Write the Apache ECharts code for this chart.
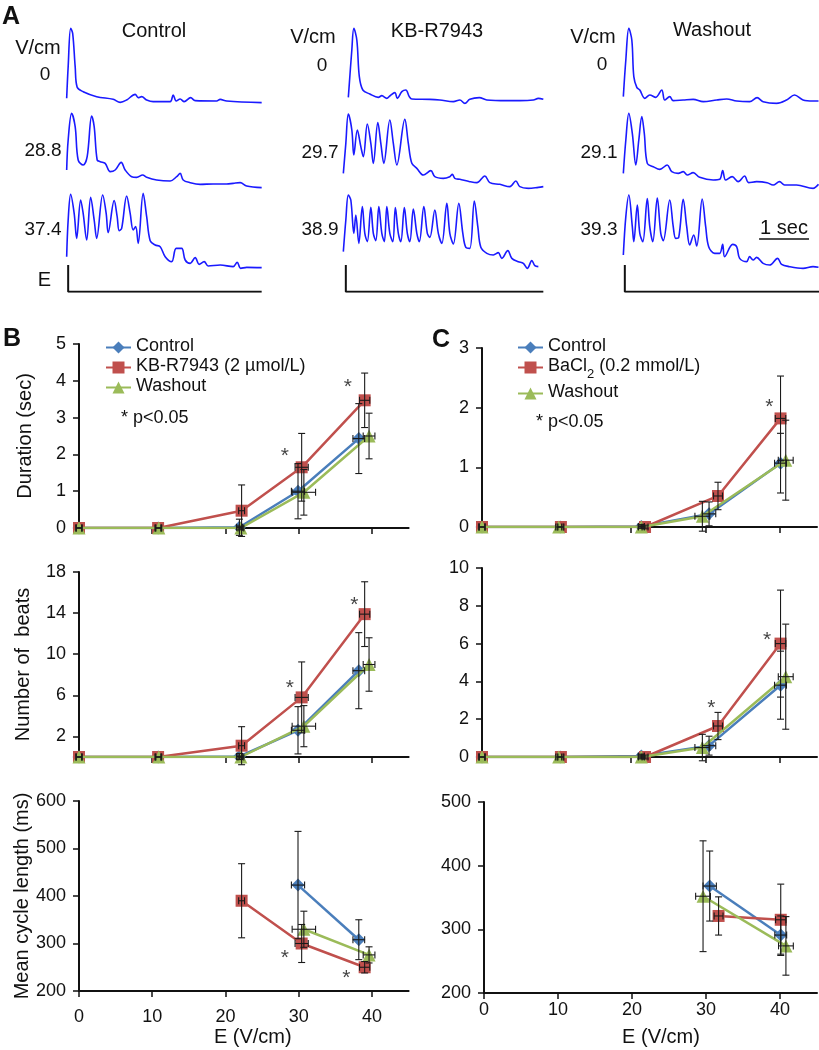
<!DOCTYPE html>
<html><head><meta charset="utf-8">
<script src="https://cdn.jsdelivr.net/npm/echarts@6/dist/echarts.min.js"></script>
<style>html,body{margin:0;padding:0;background:#fff}#c{width:819px;height:1050px}</style>
</head><body><div id="c"></div><script>
// ---------- Panel A traces: [time (s), amplitude (a.u.)] ----------
const trCtrl1 = [[0,15],[0.03,110],[0.08,225],[0.12,210],[0.17,110],[0.21,48],[0.33,35],[0.6,20],[0.93,12],[1.07,3],[1.2,10],[1.37,27],[1.43,17],[1.5,20],[1.6,10],[1.73,5],[2.07,5],[2.13,25],[2.19,7],[2.27,13],[2.35,5],[2.48,17],[2.57,8],[3.0,7],[3.07,12],[3.2,7],[3.9,2]];
const trCtrl2 = [[0,55],[0.03,145],[0.1,225],[0.17,185],[0.23,85],[0.33,70],[0.41,95],[0.5,217],[0.55,185],[0.61,85],[0.67,80],[0.77,75],[0.87,50],[0.97,55],[1.09,78],[1.17,55],[1.3,35],[1.4,33],[1.52,40],[1.6,33],[1.8,25],[2.07,22],[2.2,35],[2.27,45],[2.33,25],[2.47,17],[2.67,12],[2.93,13],[3.2,13],[3.33,15],[3.47,17],[3.6,7],[3.9,2]];
const trCtrl3 = [[0,38],[0.03,148],[0.08,225],[0.15,168],[0.2,93],[0.28,208],[0.33,168],[0.4,88],[0.48,216],[0.55,148],[0.6,93],[0.72,223],[0.79,168],[0.83,110],[0.95,206],[1.01,158],[1.05,116],[1.1,123],[1.2,220],[1.27,168],[1.33,118],[1.38,128],[1.43,78],[1.53,228],[1.6,158],[1.67,86],[1.77,73],[1.87,68],[1.97,38],[2.1,23],[2.19,63],[2.3,63],[2.37,28],[2.47,18],[2.57,35],[2.65,15],[2.75,23],[2.83,10],[3.07,13],[3.33,8],[3.41,21],[3.48,3],[3.6,6],[3.9,5]];
const trKb1 = [[0.1,20],[0.17,162],[0.21,227],[0.27,192],[0.32,82],[0.39,42],[0.53,30],[0.7,20],[0.77,25],[0.87,17],[0.93,24],[1.03,34],[1.08,17],[1.17,37],[1.25,42],[1.32,22],[1.37,15],[1.73,14],[1.93,12],[2.2,7],[2.33,12],[2.43,2],[2.53,14],[2.72,19],[2.87,12],[3.27,10],[3.53,10],[3.8,12],[3.9,17],[4.0,14]];
const trKb2 = [[0,47],[0.05,137],[0.1,225],[0.17,177],[0.21,102],[0.28,177],[0.35,127],[0.4,97],[0.48,195],[0.55,137],[0.6,77],[0.69,199],[0.75,137],[0.81,77],[0.93,207],[1.0,137],[1.07,72],[1.23,209],[1.3,137],[1.37,77],[1.47,62],[1.6,42],[1.75,55],[1.83,37],[2.0,32],[2.13,37],[2.18,44],[2.23,32],[2.33,29],[2.53,22],[2.67,19],[2.83,39],[2.93,19],[3.13,14],[3.33,7],[3.45,24],[3.53,7],[3.7,2],[3.9,5],[4.0,7]];
const trKb3 = [[0,53],[0.05,148],[0.1,223],[0.15,208],[0.21,108],[0.25,163],[0.31,78],[0.38,188],[0.43,108],[0.48,83],[0.55,186],[0.6,108],[0.65,86],[0.71,188],[0.77,108],[0.82,83],[0.87,188],[0.93,108],[0.99,83],[1.04,185],[1.1,108],[1.15,83],[1.22,185],[1.28,108],[1.33,83],[1.4,181],[1.47,108],[1.52,83],[1.61,188],[1.68,108],[1.73,96],[1.83,178],[1.9,108],[1.97,78],[2.07,198],[2.13,108],[2.2,76],[2.31,198],[2.39,108],[2.45,66],[2.53,63],[2.62,205],[2.69,128],[2.75,66],[2.87,48],[3.0,43],[3.1,50],[3.17,33],[3.29,56],[3.37,33],[3.5,23],[3.6,18],[3.68,3],[3.77,26],[3.83,11],[3.9,8]];
const trWash1 = [[0,22],[0.05,132],[0.11,227],[0.17,192],[0.21,82],[0.27,50],[0.33,42],[0.43,17],[0.53,27],[0.65,20],[0.77,42],[0.83,12],[0.93,22],[1.0,10],[1.2,12],[1.4,14],[1.6,7],[1.87,12],[2.07,15],[2.27,9],[2.53,7],[2.68,19],[2.8,7],[3.07,2],[3.27,12],[3.43,27],[3.6,12],[3.8,9],[3.91,9]];
const trWash2 = [[0,47],[0.05,147],[0.11,227],[0.18,167],[0.25,72],[0.31,147],[0.37,217],[0.42,167],[0.48,77],[0.6,67],[0.73,59],[0.88,72],[0.97,52],[1.1,47],[1.2,52],[1.28,42],[1.4,49],[1.53,35],[1.8,27],[1.93,29],[1.99,55],[2.05,27],[2.18,37],[2.3,22],[2.43,39],[2.51,19],[2.67,22],[2.88,19],[3.0,12],[3.13,22],[3.23,12],[3.47,12],[3.8,2],[3.91,14]];
const trWash3 = [[0,43],[0.05,158],[0.11,223],[0.18,128],[0.21,83],[0.28,193],[0.33,108],[0.39,83],[0.48,212],[0.53,128],[0.59,83],[0.68,214],[0.75,108],[0.8,86],[0.93,208],[1.0,128],[1.05,93],[1.11,96],[1.2,210],[1.27,128],[1.33,73],[1.41,103],[1.47,70],[1.58,211],[1.65,128],[1.71,68],[1.83,48],[1.93,48],[1.99,75],[2.03,38],[2.19,75],[2.27,68],[2.33,33],[2.47,23],[2.53,38],[2.6,28],[2.67,36],[2.8,18],[2.93,13],[3.09,33],[3.17,15],[3.33,8],[3.6,3],[3.8,8],[3.91,6]];
// stimulus (E) markers and scale bar
const stimCtrl = [[0.03,1],[0.03,0],[3.9,0]];
const stimKb = [[0.05,1],[0.05,0],[4.0,0]];
const stimWash = [[0.03,1],[0.03,0],[3.92,0]];
const scaleBar = [[2.72,91],[3.72,91]];
const fieldCtrl = ['0','28.8','37.4'];
const fieldKb = ['0','29.7','38.9'];
const fieldWash = ['0','29.1','39.3'];

// ---------- Panel B (KB-R7943) ----------
const namesB = ['Control','KB-R7943 (2 µmol/L)','Washout'];
const E_B_ctrl = [0,10.8,21.9,29.9,38.2];
const E_B_ctrl_sd = [0.4,0.4,0.4,0.9,0.8];
const E_B_kb = [0,10.8,22.2,30.4,39.0];
const E_B_kb_sd = [0.4,0.4,0.4,0.9,0.7];
const E_B_wash = [0,10.9,22.1,30.7,39.6];
const E_B_wash_sd = [0.4,0.4,0.4,1.6,0.8];
const durB_ctrl = [0,0,0.02,1.0,2.43];
const durB_ctrl_sd = [0,0,0.22,0.75,0.95];
const durB_kb = [0,0,0.47,1.65,3.47];
const durB_kb_sd = [0,0,0.7,0.92,0.74];
const durB_wash = [0,0,0,0.97,2.5];
const durB_wash_sd = [0,0,0.05,0.62,0.62];
const beatsB_ctrl = [0,0,0.05,2.6,8.4];
const beatsB_ctrl_sd = [0,0,0.3,2.3,3.7];
const beatsB_kb = [0,0,1.1,5.8,13.9];
const beatsB_kb_sd = [0,0,1.85,3.45,3.15];
const beatsB_wash = [0,0,0,3.0,9.0];
const beatsB_wash_sd = [0,0,0.1,2.0,2.6];
const cycB_ctrl = [null,null,null,423,308];
const cycB_ctrl_sd = [0,0,0,113,42];
const cycB_kb = [null,null,390,300,250];
const cycB_kb_sd = [0,0,78,40,12];
const cycB_wash = [null,null,null,330,276];
const cycB_wash_sd = [0,0,0,38,17];
const starsB_dur = [[28.1,1.95],[36.7,3.82]];
const starsB_beats = [[28.8,6.7],[37.6,14.8]];
const starsB_cyc = [[28.1,270],[36.5,227]];

// ---------- Panel C (BaCl2) ----------
const namesC = ['Control','BaCl2 (0.2 mmol/L)','Washout'];
const E_C_ctrl = [0,10.5,21.4,30.5,40.1];
const E_C_ctrl_sd = [0.4,0.4,0.4,0.9,0.8];
const E_C_ba = [0,10.6,21.9,31.7,40.1];
const E_C_ba_sd = [0.4,0.4,0.4,0.6,0.7];
const E_C_wash = [0,10.3,21.4,29.6,40.8];
const E_C_wash_sd = [0.4,0.4,0.4,1.0,1.0];
const durC_ctrl = [0,0,0.01,0.22,1.07];
const durC_ctrl_sd = [0,0,0.03,0.2,0.5];
const durC_ba = [0,0,0,0.52,1.82];
const durC_ba_sd = [0,0,0.03,0.23,0.71];
const durC_wash = [0,0,0,0.18,1.12];
const durC_wash_sd = [0,0,0.02,0.25,0.67];
const beatsC_ctrl = [0,0,0.05,0.6,3.8];
const beatsC_ctrl_sd = [0,0,0.1,0.5,1.8];
const beatsC_ba = [0,0,0,1.64,6.0];
const beatsC_ba_sd = [0,0,0.1,0.72,2.83];
const beatsC_wash = [0,0,0,0.5,4.25];
const beatsC_wash_sd = [0,0,0.1,0.7,2.78];
const cycC_ctrl = [null,null,null,368,291];
const cycC_ctrl_sd = [0,0,0,55,30];
const cycC_ba = [null,null,null,321,315];
const cycC_ba_sd = [0,0,0,30,56];
const cycC_wash = [null,null,null,352,274];
const cycC_wash_sd = [0,0,0,87,46];
const starsC_dur = [[38.6,2.0]];
const starsC_beats = [[30.8,2.6],[38.3,6.2]];
const starsC_cyc = [];

const xTicks = [0,10,20,30,40];
const beatsBTicks = [2,6,10,14,18];

// ---------- styling / layout ----------
const FONT = '"Liberation Sans", Arial, Helvetica, sans-serif';
const INK = '#111';
const TRACE = '#1a1aff';
const COLORS = ['#4a7ebb','#c0504d','#9bbb59'];
const SYMS = ['diamond','rect','triangle'];
const SYMSIZE = [13,12,13];

const grid = [], xAxis = [], yAxis = [], series = [], graphic = [];

function addText(text, x, y, size, opts) {
  opts = opts || {};
  graphic.push({type:'text', x:x, y:y, z:50, style:{text:text, fontSize:size, fontFamily:FONT,
    fontWeight: opts.bold ? 'bold' : 'normal', fill:INK, align: opts.align || 'center', verticalAlign:'middle'}});
}

// Panel A grids
const traceCols = [
  {left:66.67, width:195, max:3.9, bottoms:[103.33,188.33,269.33], data:[trCtrl1,trCtrl2,trCtrl3], stim:stimCtrl},
  {left:343.33, width:200, max:4.0, bottoms:[104,189,269.33], data:[trKb1,trKb2,trKb3], stim:stimKb},
  {left:623.33, width:196, max:3.92, bottoms:[104,189,269.33], data:[trWash1,trWash2,trWash3], stim:stimWash}
];
traceCols.forEach((col, ci) => {
  col.data.forEach((d, ri) => {
    const gi = grid.length;
    grid.push({left:col.left, top:col.bottoms[ri]-80, width:col.width, height:80});
    xAxis.push({gridIndex:gi, type:'value', min:0, max:col.max, show:false});
    yAxis.push({gridIndex:gi, type:'value', min:0, max:240, show:false});
    series.push({type:'line', name:'trace'+ci+ri, xAxisIndex:gi, yAxisIndex:gi, data:d, smooth:0.35,
      showSymbol:false, lineStyle:{color:TRACE, width:1.6}, silent:true});
    if (ci === 2 && ri === 2) {
      series.push({type:'line', name:'scalebar', xAxisIndex:gi, yAxisIndex:gi, data:scaleBar, showSymbol:false,
        lineStyle:{color:INK, width:1.5}, silent:true});
    }
  });
});
traceCols.forEach((col, ci) => {
  const gi = grid.length;
  grid.push({left:col.left, top:265, width:col.width, height:26.67});
  xAxis.push({gridIndex:gi, type:'value', min:0, max:col.max, show:false});
  yAxis.push({gridIndex:gi, type:'value', min:0, max:1, show:false});
  series.push({type:'line', name:'stim'+ci, xAxisIndex:gi, yAxisIndex:gi, data:col.stim, showSymbol:false,
    lineStyle:{color:INK, width:2}, silent:true});
});

// Panel A labels
addText('A', 2, 17, 25, {bold:true, align:'left'});
addText('Control', 154, 31, 20);
addText('KB-R7943', 437, 31, 20);
addText('Washout', 712, 30, 20);
addText('V/cm', 38, 48, 20);
addText('V/cm', 313, 37, 20);
addText('V/cm', 593, 37, 20);
const labelPos = [{x:[45,43,43], y:[75,151,230]}, {x:[322,320,320], y:[66,153,230]}, {x:[602,599,599], y:[65,153,230]}];
[fieldCtrl, fieldKb, fieldWash].forEach((arr, ci) => arr.forEach((t, ri) => addText(t, labelPos[ci].x[ri], labelPos[ci].y[ri], 19)));
addText('E', 44.5, 280, 20);
addText('1 sec', 784, 228, 20);

// Panels B & C
const chartsCfg = [
  {g:{left:79,top:344,width:329.6,height:184}, y:[0,5,1], yName:'Duration (sec)', nameGap:44, xLab:false,
   sets:[[E_B_ctrl,E_B_ctrl_sd,durB_ctrl,durB_ctrl_sd],[E_B_kb,E_B_kb_sd,durB_kb,durB_kb_sd],[E_B_wash,E_B_wash_sd,durB_wash,durB_wash_sd]], names:namesB, stars:starsB_dur},
  {g:{left:79,top:572,width:329.6,height:185}, y:[0,18,2], yLabels:beatsBTicks, yName:'Number of  beats', nameGap:46, xLab:false,
   sets:[[E_B_ctrl,E_B_ctrl_sd,beatsB_ctrl,beatsB_ctrl_sd],[E_B_kb,E_B_kb_sd,beatsB_kb,beatsB_kb_sd],[E_B_wash,E_B_wash_sd,beatsB_wash,beatsB_wash_sd]], names:namesB, stars:starsB_beats},
  {g:{left:79,top:801,width:329.6,height:190}, y:[200,600,100], yName:'Mean cycle length (ms)', nameGap:47, xLab:true, xMargin:17, xNameGap:36, xNamePad:18,
   sets:[[E_B_ctrl,E_B_ctrl_sd,cycB_ctrl,cycB_ctrl_sd],[E_B_kb,E_B_kb_sd,cycB_kb,cycB_kb_sd],[E_B_wash,E_B_wash_sd,cycB_wash,cycB_wash_sd]], names:namesB, stars:starsB_cyc},
  {g:{left:482,top:348,width:335,height:179}, y:[0,3,1], xLab:false,
   sets:[[E_C_ctrl,E_C_ctrl_sd,durC_ctrl,durC_ctrl_sd],[E_C_ba,E_C_ba_sd,durC_ba,durC_ba_sd],[E_C_wash,E_C_wash_sd,durC_wash,durC_wash_sd]], names:namesC, stars:starsC_dur},
  {g:{left:482,top:568,width:335,height:189}, y:[0,10,2], xLab:false,
   sets:[[E_C_ctrl,E_C_ctrl_sd,beatsC_ctrl,beatsC_ctrl_sd],[E_C_ba,E_C_ba_sd,beatsC_ba,beatsC_ba_sd],[E_C_wash,E_C_wash_sd,beatsC_wash,beatsC_wash_sd]], names:namesC, stars:starsC_beats},
  {g:{left:484,top:802,width:333,height:191}, y:[200,500,100], xLab:true, xMargin:8, xNameGap:34, xNamePad:21,
   sets:[[E_C_ctrl,E_C_ctrl_sd,cycC_ctrl,cycC_ctrl_sd],[E_C_ba,E_C_ba_sd,cycC_ba,cycC_ba_sd],[E_C_wash,E_C_wash_sd,cycC_wash,cycC_wash_sd]], names:namesC, stars:starsC_cyc}
];

function errRender(params, api) {
  const x = api.value(0), y = api.value(1), xe = api.value(2), ye = api.value(3);
  const st = {stroke:'#1a1a1a', lineWidth:1.1};
  const cap = 3.5;
  const ch = [];
  if (ye > 0) {
    const t = api.coord([x, y + ye]), b = api.coord([x, y - ye]);
    ch.push({type:'line', shape:{x1:t[0], y1:t[1], x2:b[0], y2:b[1]}, style:st});
    ch.push({type:'line', shape:{x1:t[0]-cap, y1:t[1], x2:t[0]+cap, y2:t[1]}, style:st});
    ch.push({type:'line', shape:{x1:b[0]-cap, y1:b[1], x2:b[0]+cap, y2:b[1]}, style:st});
  }
  if (xe > 0) {
    const l = api.coord([x - xe, y]), r = api.coord([x + xe, y]);
    ch.push({type:'line', shape:{x1:l[0], y1:l[1], x2:r[0], y2:r[1]}, style:st});
    ch.push({type:'line', shape:{x1:l[0], y1:l[1]-cap, x2:l[0], y2:l[1]+cap}, style:st});
    ch.push({type:'line', shape:{x1:r[0], y1:r[1]-cap, x2:r[0], y2:r[1]+cap}, style:st});
  }
  return {type:'group', children:ch};
}

chartsCfg.forEach((c) => {
  const gi = grid.length;
  grid.push(c.g);
  xAxis.push({gridIndex:gi, type:'value', min:0, max:45, interval:10,
    axisLine:{show:true, onZero:false, lineStyle:{color:INK, width:2}},
    axisTick:{show:true, length:6, customValues:xTicks, lineStyle:{color:INK, width:1.5}},
    axisLabel:{show:c.xLab, customValues:xTicks, margin:c.xMargin || 8, fontSize:18, fontFamily:FONT, color:INK},
    splitLine:{show:false},
    name: c.xLab ? 'E (V/cm)' : '', nameLocation:'middle', nameGap:c.xNameGap || 30,
    nameTextStyle:{fontSize:20, fontFamily:FONT, color:INK, padding:[0,0,0,c.xNamePad || 0]}
  });
  const yl = {show:true, margin:13, fontSize:18, fontFamily:FONT, color:INK};
  const yt = {show:true, length:6, lineStyle:{color:INK, width:1.5}};
  if (c.yLabels) { yl.customValues = c.yLabels; yt.customValues = c.yLabels; }
  yAxis.push({gridIndex:gi, type:'value', min:c.y[0], max:c.y[1], interval:c.y[2],
    axisLine:{show:true, lineStyle:{color:INK, width:2}}, axisTick:yt, axisLabel:yl, splitLine:{show:false},
    name:c.yName || '', nameLocation:'middle', nameGap:c.nameGap || 40,
    nameTextStyle:{fontSize:20, fontFamily:FONT, color:INK}
  });
  c.sets.forEach((s, si) => {
    const xs = s[0], xsd = s[1], ys = s[2], ysd = s[3];
    const pts = [], errs = [];
    xs.forEach((xv, i) => {
      if (ys[i] === null) return;
      pts.push([xv, ys[i]]);
      errs.push([xv, ys[i], xsd[i], ysd[i]]);
    });
    series.push({type:'line', name:c.names[si], xAxisIndex:gi, yAxisIndex:gi, data:pts, z:2 + si,
      symbol:SYMS[si], symbolSize:SYMSIZE[si], showSymbol:true,
      itemStyle:{color:COLORS[si]}, lineStyle:{color:COLORS[si], width:2.5}});
    series.push({type:'custom', name:'err'+si, xAxisIndex:gi, yAxisIndex:gi, data:errs, renderItem:errRender,
      encode:{x:0, y:1}, z:6, silent:true});
  });
  if (c.stars.length) {
    series.push({type:'scatter', name:'stars', xAxisIndex:gi, yAxisIndex:gi, data:c.stars, symbolSize:1,
      itemStyle:{color:'rgba(0,0,0,0)'}, silent:true, z:8,
      label:{show:true, position:'inside', formatter:'*', fontSize:21, fontFamily:FONT, color:INK}});
  }
});

addText('B', 3, 339, 25, {bold:true, align:'left'});
addText('C', 432, 340, 25, {bold:true, align:'left'});
addText('* p<0.05', 121, 418, 18, {align:'left'});
addText('* p<0.05', 536, 422, 18, {align:'left'});

const legendBase = {orient:'vertical', itemWidth:25, itemHeight:15, itemGap:2, selectedMode:false,
  textStyle:{fontFamily:FONT, color:INK, rich:{
    a:{fontSize:18, fontFamily:FONT, color:INK, lineHeight:21, verticalAlign:'top'},
    s:{fontSize:13, fontFamily:FONT, color:INK, lineHeight:13, padding:[11,0,0,0], verticalAlign:'top'}}},
  formatter: function (n) {
    if (n.indexOf('BaCl2') === 0) return '{a|BaCl}{s|2}{a|' + n.slice(5) + '}';
    return '{a|' + n + '}';
  }
};
const option = {
  animation:false,
  backgroundColor:'#fff',
  grid, xAxis, yAxis, series, graphic,
  legend:[
    Object.assign({}, legendBase, {data:namesB, left:100, top:332}),
    Object.assign({}, legendBase, {data:namesC, left:512, top:332})
  ]
};
const chart = echarts.init(document.getElementById('c'), null, {renderer:'canvas'});
chart.setOption(option);
</script></body></html>
